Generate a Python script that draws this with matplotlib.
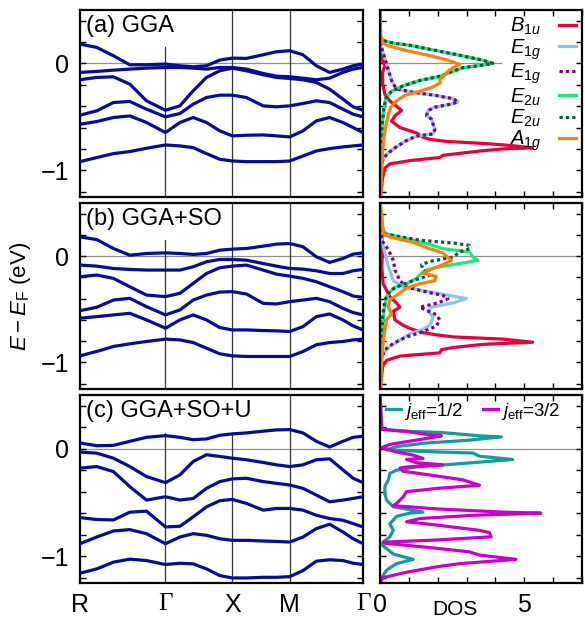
import matplotlib.pyplot as plt
import numpy as np

plt.rcParams['font.family'] = 'Liberation Sans'
plt.rcParams['mathtext.fontset'] = 'custom'
plt.rcParams['mathtext.rm'] = 'Liberation Sans'
plt.rcParams['mathtext.it'] = 'Liberation Sans:italic'
plt.rcParams['mathtext.bf'] = 'Liberation Sans:bold'

# chemin R-G-X-M-G (abscisse normalisee)
k = [0, 0.059, 0.118, 0.176, 0.235, 0.302, 0.353, 0.4, 0.447, 0.494, 0.538,
     0.588, 0.647, 0.694, 0.741, 0.788, 0.835, 0.882, 0.929, 0.965, 1.0]
k_sym = [0, 0.302, 0.538, 0.741, 1.0]
k_lab = ['R', 'Γ', 'X', 'M', 'Γ']

# bandes (eV), GGA
bands_gga = [
    [0.181, 0.150, 0.072, -0.013, -0.013, -0.006, -0.022, -0.031, -0.022, 0.031, 0.050,
     0.047, 0.081, 0.109, 0.119, 0.081, -0.022, -0.084, -0.053, -0.022, -0.006],
    [-0.084, -0.075, -0.063, -0.053, -0.044, -0.038, -0.038, -0.044, -0.053, -0.038, -0.038,
     -0.053, -0.094, -0.119, -0.125, -0.138, -0.153, -0.138, -0.084, -0.053, -0.038],
    [-0.153, -0.131, -0.125, -0.194, -0.350, -0.438, -0.397, -0.256, -0.131, -0.069, -0.044,
     -0.069, -0.106, -0.131, -0.141, -0.153, -0.178, -0.241, -0.334, -0.406, -0.438],
    [-0.484, -0.444, -0.366, -0.356, -0.428, -0.500, -0.469, -0.381, -0.319, -0.297, -0.297,
     -0.319, -0.397, -0.406, -0.397, -0.375, -0.350, -0.366, -0.428, -0.475, -0.500],
    [-0.569, -0.544, -0.506, -0.491, -0.553, -0.647, -0.553, -0.506, -0.553, -0.631, -0.678,
     -0.672, -0.669, -0.678, -0.688, -0.631, -0.538, -0.506, -0.553, -0.600, -0.647],
    [-0.919, -0.881, -0.844, -0.825, -0.794, -0.763, -0.772, -0.788, -0.844, -0.897, -0.913,
     -0.919, -0.919, -0.919, -0.913, -0.866, -0.819, -0.797, -0.781, -0.772, -0.763],
]

# GGA+SO
bands_so = [
    [0.181, 0.156, 0.072, 0.009, 0.025, 0.031, 0.025, 0.016, 0.025, 0.056, 0.066,
     0.072, 0.094, 0.113, 0.119, 0.088, -0.006, -0.059, -0.022, 0.019, 0.031],
    [-0.084, -0.094, -0.116, -0.125, -0.131, -0.131, -0.131, -0.100, -0.053, -0.031, -0.031,
     -0.038, -0.069, -0.094, -0.116, -0.122, -0.138, -0.163, -0.163, -0.138, -0.125],
    [-0.194, -0.178, -0.209, -0.288, -0.366, -0.381, -0.350, -0.256, -0.163, -0.109, -0.094,
     -0.084, -0.131, -0.169, -0.188, -0.209, -0.241, -0.288, -0.334, -0.375, -0.388],
    [-0.513, -0.481, -0.413, -0.397, -0.475, -0.553, -0.506, -0.413, -0.366, -0.338, -0.334,
     -0.356, -0.444, -0.450, -0.428, -0.413, -0.397, -0.428, -0.491, -0.531, -0.553],
    [-0.584, -0.569, -0.553, -0.538, -0.600, -0.678, -0.600, -0.553, -0.600, -0.672, -0.694,
     -0.694, -0.700, -0.703, -0.709, -0.663, -0.569, -0.544, -0.600, -0.656, -0.694],
    [-0.938, -0.897, -0.850, -0.825, -0.803, -0.781, -0.788, -0.813, -0.866, -0.919, -0.938,
     -0.944, -0.944, -0.944, -0.944, -0.897, -0.834, -0.813, -0.803, -0.788, -0.781],
]

# GGA+SO+U
bands_sou = [
    [0.053, 0.028, 0.031, 0.069, 0.106, 0.122, 0.106, 0.084, 0.091, 0.125, 0.138,
     0.147, 0.163, 0.175, 0.178, 0.147, 0.069, 0.016, 0.069, 0.106, 0.116],
    [-0.031, -0.041, -0.088, -0.166, -0.259, -0.316, -0.244, -0.119, -0.056, -0.072, -0.088,
     -0.103, -0.128, -0.150, -0.166, -0.150, -0.103, -0.094, -0.197, -0.275, -0.316],
    [-0.181, -0.166, -0.213, -0.353, -0.478, -0.447, -0.478, -0.463, -0.369, -0.306, -0.281,
     -0.275, -0.306, -0.322, -0.338, -0.369, -0.431, -0.494, -0.478, -0.463, -0.447],
    [-0.641, -0.659, -0.663, -0.591, -0.581, -0.728, -0.722, -0.634, -0.541, -0.484, -0.472,
     -0.509, -0.572, -0.556, -0.556, -0.572, -0.619, -0.650, -0.666, -0.697, -0.728],
    [-0.884, -0.822, -0.766, -0.753, -0.791, -0.884, -0.822, -0.791, -0.806, -0.838, -0.853,
     -0.853, -0.859, -0.863, -0.869, -0.822, -0.744, -0.703, -0.775, -0.838, -0.884],
    [-1.159, -1.119, -1.056, -1.028, -1.041, -1.078, -1.066, -1.072, -1.119, -1.181, -1.203,
     -1.203, -1.197, -1.197, -1.191, -1.134, -1.047, -1.034, -1.041, -1.066, -1.078],
]

# DOS GGA
e_b1u_a = [0.50, 0.46, 0.12, 0.01, -0.02, -0.08, -0.19, -0.29, -0.35, -0.40, -0.44, -0.49, -0.54,
           -0.60, -0.65, -0.69, -0.71, -0.73, -0.75, -0.77, -0.79, -0.80, -0.82, -0.86, -0.88,
           -0.91, -0.94, -0.98, -1.07, -1.21, -1.25]
d_b1u_a = [0.0, 0.0, 0.02, 0.11, 0.17, 0.09, 0.09, 0.17, 0.34, 0.57, 0.75, 0.52, 0.40,
           0.69, 1.26, 1.49, 1.72, 2.30, 3.68, 4.60, 5.29, 4.25, 3.45, 2.18, 2.07,
           1.03, 0.34, 0.17, 0.09, 0.03, 0.02]
e_e1g_a = [0.50, 0.17, -0.01, -0.16, -0.24, -0.27, -0.30, -0.33, -0.36, -0.38, -0.41, -0.44, -0.49,
           -0.52, -0.57, -0.62, -0.66, -0.68, -0.73, -0.79, -0.85, -0.91, -1.04, -1.25]
d_e1g_a = [0.0, 0.03, 0.23, 0.40, 0.57, 1.15, 1.95, 2.53, 2.70, 2.47, 1.90, 1.67, 1.61,
           1.78, 1.84, 1.90, 1.84, 1.26, 0.86, 0.52, 0.23, 0.09, 0.01, 0.0]
e_e2u_a = [0.50, 0.24, 0.21, 0.19, 0.17, 0.12, 0.07, 0.03, 0.0, -0.02, -0.04, -0.08, -0.12,
           -0.16, -0.21, -0.26, -0.32, -0.41, -0.54, -0.66, -0.76, -1.25]
d_e2u_a = [0.0, 0.02, 0.17, 0.46, 1.03, 1.95, 2.87, 3.56, 3.91, 3.45, 2.87, 2.47, 2.07,
           1.38, 0.80, 0.40, 0.21, 0.14, 0.09, 0.05, 0.01, 0.0]
e_a1g_a = [0.50, 0.40, 0.28, 0.20, 0.17, 0.12, 0.07, 0.03, -0.01, -0.04, -0.07, -0.11, -0.15,
           -0.18, -0.22, -0.26, -0.30, -0.35, -0.41, -0.48, -0.57, -0.69, -0.82, -0.98, -1.19, -1.25]
d_a1g_a = [0.0, 0.0, 0.01, 0.06, 0.23, 0.92, 1.78, 2.36, 2.76, 2.53, 2.36, 2.24, 2.07,
           2.09, 1.84, 1.38, 0.86, 0.57, 0.37, 0.29, 0.21, 0.14, 0.09, 0.06, 0.03, 0.02]

# DOS GGA+SO
e_b1u_b = [0.50, 0.40, 0.06, -0.10, -0.26, -0.38, -0.44, -0.48, -0.52, -0.60, -0.65, -0.68, -0.72,
           -0.74, -0.76, -0.78, -0.81, -0.83, -0.86, -0.88, -0.91, -0.94, -0.98, -1.04, -1.19, -1.25]
d_b1u_b = [0.0, 0.02, 0.09, 0.06, 0.11, 0.34, 0.57, 0.69, 0.46, 0.52, 0.80, 1.03, 1.49,
           1.95, 2.53, 4.25, 5.29, 3.56, 2.53, 2.13, 2.07, 0.69, 0.23, 0.09, 0.03, 0.02]
e_e1g1_b = [0.50, 0.15, 0.03, -0.10, -0.23, -0.29, -0.33, -0.37, -0.40, -0.44, -0.48, -0.52,
            -0.57, -0.62, -0.65, -0.69, -0.73, -0.79, -0.85, -0.91, -1.01, -1.25]
d_e1g1_b = [0.0, 0.06, 0.17, 0.29, 0.46, 0.80, 1.61, 2.41, 2.99, 2.53, 1.78, 1.67,
            1.84, 1.78, 1.72, 1.49, 1.03, 0.69, 0.34, 0.11, 0.02, 0.0]
e_e1g2_b = [0.50, 0.15, 0.06, -0.04, -0.13, -0.23, -0.29, -0.33, -0.37, -0.40, -0.44, -0.48,
            -0.51, -0.55, -0.60, -0.66, -0.71, -0.76, -0.82, -0.88, -0.98, -1.25]
d_e1g2_b = [0.0, 0.06, 0.29, 0.46, 0.52, 0.69, 0.92, 1.49, 2.18, 2.36, 2.01, 1.38,
            1.61, 1.95, 2.07, 1.95, 1.49, 0.92, 0.46, 0.17, 0.03, 0.0]
e_e2u1_b = [0.50, 0.24, 0.21, 0.18, 0.12, 0.07, 0.04, -0.01, -0.04, -0.07, -0.10, -0.13,
            -0.16, -0.21, -0.26, -0.30, -0.38, -0.51, -0.66, -0.79, -1.25]
d_e2u1_b = [0.0, 0.11, 0.23, 0.69, 1.61, 2.18, 3.10, 3.22, 3.39, 2.76, 2.07, 1.61,
            1.44, 1.26, 0.92, 0.46, 0.23, 0.14, 0.09, 0.06, 0.0]
e_e2u2_b = [0.50, 0.21, 0.20, 0.15, 0.12, 0.10, 0.07, 0.04, -0.01, -0.05, -0.08, -0.13,
            -0.18, -0.23, -0.29, -0.33, -0.41, -0.57, -0.73, -1.25]
d_e2u2_b = [0.0, 0.11, 0.34, 1.38, 2.64, 3.10, 3.10, 2.76, 2.53, 1.72, 1.44, 1.49,
            1.72, 1.15, 0.57, 0.34, 0.17, 0.09, 0.05, 0.0]
e_a1g_b = [0.50, 0.40, 0.28, 0.21, 0.18, 0.13, 0.07, 0.03, -0.04, -0.08, -0.13, -0.16, -0.19,
           -0.23, -0.26, -0.30, -0.37, -0.41, -0.48, -0.54, -0.60, -0.73, -0.85, -0.98, -1.19, -1.25]
d_a1g_b = [0.0, 0.06, 0.09, 0.11, 0.34, 1.15, 1.72, 2.18, 2.47, 2.18, 1.72, 1.49, 1.95,
           1.90, 1.38, 0.92, 0.57, 0.34, 0.29, 0.40, 0.23, 0.15, 0.09, 0.06, 0.03, 0.02]

# DOS GGA+SO+U
e_j12 = [0.50, 0.18, 0.16, 0.15, 0.12, 0.11, 0.08, 0.05, 0.02, -0.01, -0.03, -0.04, -0.07,
         -0.10, -0.13, -0.17, -0.20, -0.23, -0.29, -0.35, -0.42, -0.48, -0.54, -0.59, -0.60,
         -0.63, -0.70, -0.76, -0.82, -0.87, -0.90, -0.98, -1.03, -1.07, -1.13, -1.20, -1.25]
d_j12 = [0.0, 0.06, 1.15, 2.18, 3.45, 4.20, 3.10, 1.49, 0.57, 0.23, 1.95, 3.22, 3.45,
         4.60, 3.22, 1.26, 0.57, 0.34, 0.29, 0.17, 0.17, 0.23, 0.46, 1.49, 1.03,
         0.57, 0.34, 0.46, 0.34, 0.11, 0.09, 0.46, 1.15, 0.57, 0.23, 0.06, 0.0]
e_j32 = [0.50, 0.18, 0.16, 0.13, 0.12, 0.08, 0.04, 0.01, -0.03, -0.06, -0.09, -0.10, -0.13,
         -0.15, -0.17, -0.18, -0.21, -0.24, -0.29, -0.34, -0.37, -0.40, -0.45, -0.51, -0.53,
         -0.56, -0.59, -0.60, -0.62, -0.65, -0.68, -0.71, -0.76, -0.78, -0.82, -0.85, -0.87,
         -0.88, -0.92, -0.96, -0.99, -1.03, -1.07, -1.10, -1.15, -1.20, -1.25]
d_j32 = [0.0, 0.06, 0.92, 1.72, 2.13, 1.26, 0.34, 0.06, 0.57, 1.15, 1.49, 0.92, 1.26,
         2.18, 0.92, 0.69, 0.80, 1.61, 2.87, 3.45, 1.95, 0.92, 0.80, 0.57, 0.46,
         1.95, 4.25, 5.57, 3.22, 1.38, 0.92, 1.95, 3.45, 3.79, 3.85, 1.95, 0.11,
         0.17, 1.72, 3.10, 3.45, 4.71, 2.76, 1.95, 0.92, 0.11, 0.0]

navy = '#0a0a9c'
c_b1u = '#e8003c'
c_e1g = '#8ec4ec'
c_e1g2 = '#800080'
c_e2u = '#1ee67c'
c_e2u2 = '#0b5a30'
c_a1g = '#ff7f0e'
c_j12 = '#129c9a'
c_j32 = '#cc00cc'

W, H = 585, 621
fig = plt.figure(figsize=(W / 100, H / 100), dpi=100)

rows = [(10, 197), (203, 389), (395, 583)]
ax_band = []
ax_dos = []
for top, bot in rows:
    ax_band.append(fig.add_axes([80 / W, 1 - bot / H, 283 / W, (bot - top) / H]))
    ax_dos.append(fig.add_axes([380 / W, 1 - bot / H, 202 / W, (bot - top) / H]))

labels = ['(a) GGA', '(b) GGA+SO', '(c) GGA+SO+U']
short = [[True, False, False], [True, False, False], [True, True, False]]
all_bands = [bands_gga, bands_so, bands_sou]

for i, ax in enumerate(ax_band):
    for b in all_bands[i]:
        ax.plot(k, b, color=navy, lw=2.3, zorder=3)
    ax.axhline(0, color='#909090', lw=0.9, zorder=1)
    for ks, s in zip(k_sym[1:4], short[i]):
        ax.axvline(ks, ymax=0.8 if s else 1, color='#333333', lw=0.9, zorder=1)
    ax.text(0.022, 0.975, labels[i], transform=ax.transAxes, fontsize=17,
            va='top', ha='left')
    ax.set_xlim(0, 1)
    ax.set_ylim(-1.25, 0.5)
    ax.set_xticks(k_sym)
    ax.set_xticklabels(k_lab if i == 2 else [])
    ax.tick_params(axis='x', length=0, pad=7, labelsize=18)
    ax.set_yticks([-1, 0])
    ax.set_yticks(np.arange(-1.2, 0.41, 0.2), minor=True)
    ax.tick_params(axis='y', which='both', direction='in', left=True, right=True,
                   length=4, width=1, labelsize=18, pad=8)
    for sp in ax.spines.values():
        sp.set_linewidth(1.6)

for t in ax_band[2].get_xticklabels():
    if t.get_text() == 'Γ':
        t.set_family('Liberation Serif')

ax_band[1].set_ylabel(r'$E-E_{\rm F}$ (eV)', fontsize=16)
ax_band[1].yaxis.set_label_coords(-0.165, 0.5)

lw = 2.3
dot = (0, (1, 1))
ax = ax_dos[0]
ax.plot(d_b1u_a, e_b1u_a, color=c_b1u, lw=lw, label=r'$B_{1u}$')
ax.plot(d_e1g_a, e_e1g_a, color=c_e1g, lw=lw, label=r'$E_{1g}$')
ax.plot(d_e1g_a, e_e1g_a, color=c_e1g2, lw=lw, ls=dot, label=r'$E_{1g}$')
ax.plot(d_e2u_a, e_e2u_a, color=c_e2u, lw=lw, label=r'$E_{2u}$')
ax.plot(d_e2u_a, e_e2u_a, color=c_e2u2, lw=lw, ls=dot, label=r'$E_{2u}$')
ax.plot(d_a1g_a, e_a1g_a, color=c_a1g, lw=lw, label=r'$A_{1g}$')
ax.axhline(0, xmax=0.6, color='#909090', lw=0.9, zorder=1)
ax.legend(loc='upper right', frameon=False, markerfirst=False, fontsize=14.5,
          handlelength=0.85, handletextpad=0.9, labelspacing=0.0,
          borderaxespad=0.15, borderpad=0.15)

ax = ax_dos[1]
ax.plot(d_b1u_b, e_b1u_b, color=c_b1u, lw=lw)
ax.plot(d_e1g1_b, e_e1g1_b, color=c_e1g, lw=lw)
ax.plot(d_e1g2_b, e_e1g2_b, color=c_e1g2, lw=lw, ls=dot)
ax.plot(d_e2u1_b, e_e2u1_b, color=c_e2u, lw=lw)
ax.plot(d_e2u2_b, e_e2u2_b, color=c_e2u2, lw=lw, ls=dot)
ax.plot(d_a1g_b, e_a1g_b, color=c_a1g, lw=lw)
ax.axhline(0, color='#909090', lw=0.9, zorder=1)

ax = ax_dos[2]
ax.plot(d_j12, e_j12, color=c_j12, lw=lw, label=r'$j_{\rm eff}$=1/2')
ax.plot(d_j32, e_j32, color=c_j32, lw=lw, label=r'$j_{\rm eff}$=3/2')
ax.axhline(0, color='#909090', lw=0.9, zorder=1)
ax.legend(loc='upper left', frameon=False, ncol=2, fontsize=13.5,
          handlelength=0.8, handletextpad=0.2, columnspacing=1.0,
          borderaxespad=0.1, borderpad=0.2)

for i, ax in enumerate(ax_dos):
    ax.set_xlim(0, 7)
    ax.set_ylim(-1.25, 0.5)
    ax.set_xticks(range(0, 8))
    ax.set_xticklabels(['0', '', '', '', '', '5', '', ''] if i == 2 else [])
    ax.set_yticks(np.arange(-1.2, 0.41, 0.2))
    ax.set_yticklabels([])
    ax.tick_params(which='both', direction='in', left=True, right=True, top=True,
                   bottom=True, length=4, width=1, labelsize=18, pad=7)
    for sp in ax.spines.values():
        sp.set_linewidth(1.6)

ax_dos[2].set_xlabel('DOS', fontsize=15)
ax_dos[2].xaxis.set_label_coords(0.37, -0.09)

fig.savefig('out.png', dpi=100)
